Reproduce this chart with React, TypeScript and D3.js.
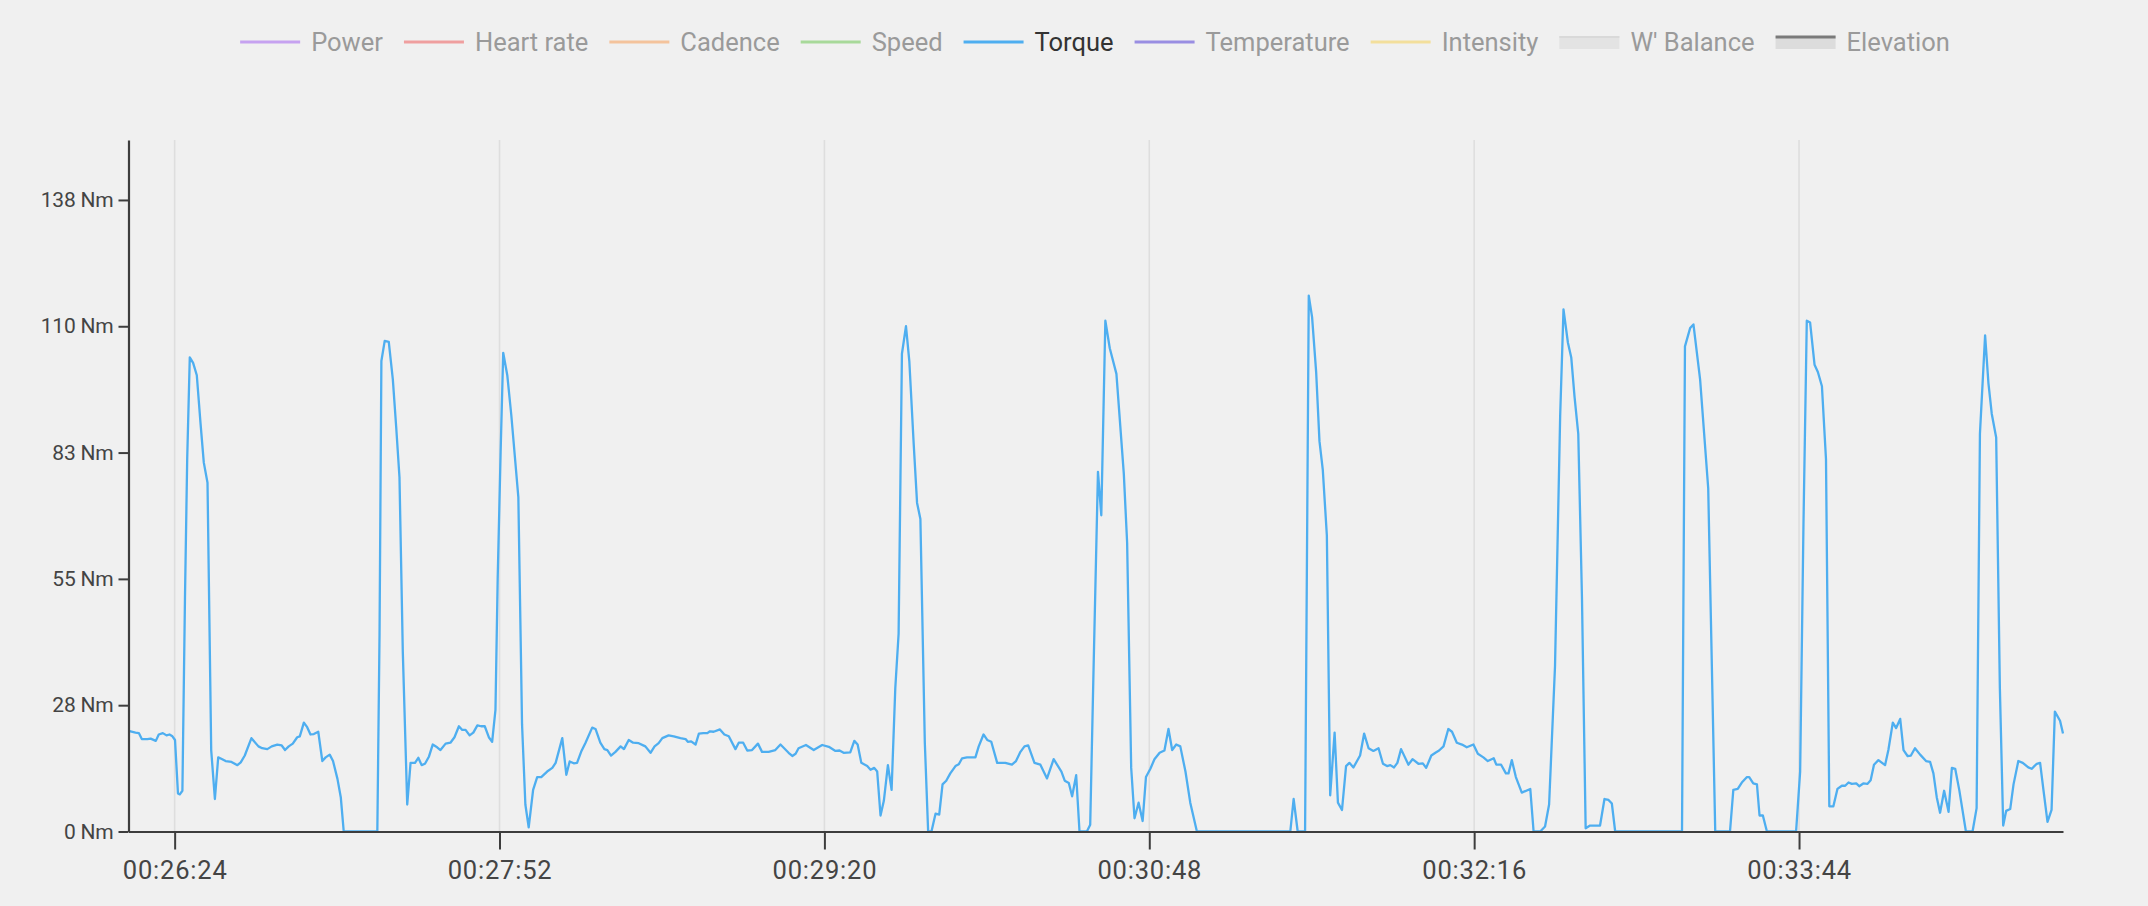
import React, { useEffect, useRef } from 'react';
import * as d3 from 'd3';

const W = 2148;
const H = 906;

// Legend
const legendNames = ['Power', 'Heart rate', 'Cadence', 'Speed', 'Torque', 'Temperature', 'Intensity', "W' Balance", 'Elevation'];
const legendColors = ['#c6a2f0', '#ef9f9f', '#f4c39c', '#a8d99a', '#4eaef0', '#998ee2', '#f3df9c', '#e3e3e3', '#dcdcdc'];
const legendKinds = ['line', 'line', 'line', 'line', 'line', 'line', 'line', 'band', 'elev'];
const activeSeries = 'Torque';

// Axes
const yTickValues = [0, 27.6, 55.2, 82.8, 110.4, 138];
const yMax = 151.1;
const xTickValues = [1584, 1672, 1760, 1848, 1936, 2024];
const timeDomain: [number, number] = [1571.5, 2095.5];

// Torque samples: [elapsed seconds, Nm]
const torque1: [number, number][] = [
  [1571.5, 22.0], [1573.4, 21.6], [1574.3, 21.5], [1575.1, 20.2], [1576.6, 20.2], [1577.5, 20.3], [1578.9, 19.8],
  [1579.7, 21.2], [1580.8, 21.5], [1581.8, 21.0], [1582.6, 21.2], [1583.4, 20.8], [1584.1, 20.0], [1584.9, 8.3],
  [1585.4, 8.1], [1586.1, 8.9], [1586.8, 51.2], [1587.4, 81.4], [1588.1, 103.6], [1589.0, 102.4], [1590.0, 99.7],
  [1591.0, 89.3], [1591.9, 80.6], [1592.9, 76.2], [1593.9, 17.8], [1594.9, 7.1], [1595.8, 16.2], [1596.9, 15.8],
  [1597.8, 15.4], [1599.4, 15.2], [1601.0, 14.5], [1601.9, 15.1], [1603.0, 16.6], [1604.8, 20.4], [1606.7, 18.6],
  [1607.7, 18.2], [1609.1, 18.0], [1610.3, 18.6], [1611.8, 19.0], [1613.0, 18.8], [1613.9, 17.8], [1614.9, 18.6],
  [1616.0, 19.2], [1617.2, 20.6], [1617.9, 20.8], [1619.0, 23.8], [1619.9, 22.8], [1620.8, 21.2], [1621.7, 21.3],
  [1622.9, 21.8], [1624.0, 15.4], [1624.9, 16.2], [1626.0, 16.8], [1626.9, 15.4], [1628.1, 11.5], [1629.0, 7.5],
  [1629.8, 0], [1638.9, 0], [1639.5, 43.2], [1640.0, 102.8], [1640.9, 107.2], [1642.0, 107.0], [1643.1, 98.8],
  [1644.0, 88.5], [1644.9, 77.4], [1645.8, 39.3], [1647.0, 5.9], [1647.9, 15.0], [1649.1, 15.0], [1650.0, 16.1],
  [1650.9, 14.5], [1651.8, 14.8], [1652.9, 16.4], [1653.9, 19.0], [1655.1, 18.4], [1656.0, 17.8], [1657.4, 19.2],
];

const torque2: [number, number][] = [
  [1658.7, 19.4], [1659.8, 20.6], [1661.0, 23.0], [1661.9, 22.2], [1662.8, 22.2], [1663.9, 21.0], [1664.9, 21.6],
  [1666.0, 23.2], [1667.0, 23.0], [1668.0, 23.0], [1669.1, 20.6], [1670.0, 19.6], [1670.9, 26.6], [1671.5, 55.2],
  [1672.3, 83.0], [1673.0, 104.6], [1674.1, 99.7], [1675.2, 90.9], [1677.1, 73.0], [1677.7, 43.2], [1678.1, 23.4],
  [1679.0, 5.9], [1679.9, 0.9], [1681.1, 9.1], [1682.2, 11.9], [1683.3, 11.9], [1684.9, 13.1], [1686.3, 13.9],
  [1687.2, 15.0], [1689.0, 20.4], [1690.1, 12.4], [1691.0, 15.3], [1692.1, 14.9], [1693.0, 15.0], [1694.1, 17.4],
  [1695.3, 19.4], [1697.1, 22.7], [1698.0, 22.4], [1699.3, 19.4], [1700.4, 18.0], [1701.2, 17.8], [1702.2, 16.6],
  [1703.4, 17.4], [1704.8, 18.6], [1705.7, 18.0], [1707.0, 20.0], [1708.2, 19.4], [1709.7, 19.3], [1711.5, 18.6],
  [1712.9, 17.2], [1714.0, 18.6], [1715.1, 19.3], [1716.1, 20.4], [1717.8, 21.0], [1719.2, 20.8], [1721.0, 20.4],
  [1722.4, 20.2], [1723.0, 19.6], [1723.9, 19.7], [1725.1, 19.0], [1726.0, 21.4], [1727.2, 21.5], [1728.3, 21.5],
  [1729.0, 21.9], [1730.0, 21.8], [1731.7, 22.3], [1732.9, 21.2], [1734.1, 20.8], [1735.9, 18.0], [1736.8, 19.4],
  [1738.0, 19.4], [1739.1, 17.7], [1740.4, 17.8], [1742.0, 19.2], [1743.1, 17.4], [1744.9, 17.4], [1746.7, 17.8],
  [1748.1, 19.0],
];

const torque3: [number, number][] = [
  [1750.3, 17.2], [1751.3, 16.5], [1752.2, 17.0], [1753.0, 18.2], [1755.0, 18.9], [1757.1, 17.8], [1759.4, 18.9],
  [1761.2, 18.5], [1763.0, 17.6], [1764.1, 17.7], [1765.2, 17.2], [1767.0, 17.3], [1768.1, 19.8], [1769.0, 19.0],
  [1770.0, 15.0], [1771.6, 14.3], [1772.5, 13.5], [1773.5, 13.9], [1774.3, 13.1], [1775.2, 3.5], [1776.1, 6.7],
  [1777.2, 14.5], [1778.2, 9.1], [1779.2, 31.3], [1780.1, 43.2], [1781.0, 104.4], [1782.1, 110.4], [1783.0, 102.8],
  [1784.2, 84.5], [1785.1, 71.8], [1786.0, 68.3], [1787.2, 19.4], [1788.1, 0], [1789.0, 0], [1790.1, 3.9],
  [1791.1, 3.7], [1792.0, 10.3], [1793.0, 11.1], [1794.1, 12.7], [1795.5, 14.3], [1796.4, 14.7], [1797.3, 16.0],
  [1798.6, 16.2], [1800.9, 16.2], [1801.8, 18.6], [1803.1, 21.2], [1804.1, 20.0], [1805.2, 19.6], [1806.8, 15.0],
  [1809.0, 15.0], [1810.8, 14.6], [1811.9, 15.4], [1813.1, 17.4], [1814.2, 18.6], [1815.2, 18.8], [1816.9, 15.0],
  [1818.5, 14.6], [1820.3, 11.6], [1822.1, 15.8], [1824.2, 13.1], [1825.1, 11.1], [1826.2, 10.6], [1827.1, 7.7],
  [1828.2, 12.3], [1829.1, 0], [1831.1, 0], [1832.0, 1.5], [1832.9, 35.3], [1834.1, 78.6], [1835.0, 69.1],
  [1836.1, 111.6],
];

const torque4: [number, number][] = [
  [1837.3, 105.6], [1839.1, 100.0], [1841.1, 78.2], [1842.0, 63.1], [1843.1, 13.9], [1844.0, 2.9], [1845.1, 6.3],
  [1846.2, 2.3], [1847.1, 11.9], [1848.3, 13.7], [1849.4, 15.8], [1850.8, 17.2], [1852.1, 17.7], [1853.2, 22.4],
  [1854.2, 17.8], [1855.3, 19.0], [1856.4, 18.6], [1857.8, 13.1], [1859.1, 6.3], [1860.9, 0], [1886.2, 0],
  [1887.1, 7.1], [1888.2, 0], [1890.2, 0], [1891.2, 117.1], [1892.1, 112.4], [1893.2, 100.4], [1894.1, 85.3],
  [1895.0, 79.0], [1896.1, 64.7], [1897.0, 7.9], [1898.2, 21.6], [1899.1, 6.3], [1900.2, 4.7], [1901.3, 14.3],
  [1902.2, 15.0], [1903.3, 14.0], [1905.1, 16.6], [1906.2, 21.4], [1907.4, 18.2], [1908.7, 17.6], [1910.1, 18.2],
  [1911.3, 14.8], [1912.4, 14.3], [1913.3, 14.5], [1914.3, 14.0], [1915.2, 15.0], [1916.2, 18.0], [1918.2, 14.6],
  [1919.3, 15.8], [1920.9, 14.8], [1922.1, 14.9], [1923.0, 13.9],
];

const torque5: [number, number][] = [
  [1924.4, 16.6], [1925.5, 17.2], [1926.5, 17.7], [1927.7, 18.6], [1929.0, 22.4], [1930.0, 21.8], [1931.3, 19.4],
  [1932.7, 19.0], [1934.0, 18.4], [1935.8, 19.0], [1937.0, 17.0], [1938.5, 16.2], [1939.7, 15.4], [1941.3, 16.0],
  [1942.0, 14.6], [1943.3, 14.6], [1944.6, 12.7], [1945.3, 12.7], [1946.2, 15.6], [1947.3, 11.9], [1948.9, 8.5],
  [1951.2, 9.3], [1952.1, 0], [1953.9, 0], [1955.2, 1.1], [1956.3, 5.9], [1957.9, 36.1], [1959.3, 90.9],
  [1960.2, 114.1], [1961.4, 106.8], [1962.3, 103.6], [1963.2, 94.9], [1964.2, 86.9], [1965.2, 51.2], [1966.2, 0.7],
  [1967.4, 1.3], [1970.1, 1.3], [1971.3, 7.1], [1972.4, 6.9], [1973.3, 6.1], [1974.2, 0], [1992.3, 0],
  [1993.1, 106.0], [1994.5, 110.0], [1995.4, 110.8], [1997.2, 98.8], [1999.4, 75.0], [2001.3, 0], [2005.3, 0],
  [2006.2, 9.1], [2007.4, 9.3], [2008.5, 10.7], [2009.9, 11.9], [2010.5, 11.9], [2011.6, 10.5],
];

const torque6: [number, number][] = [
  [2012.6, 10.3], [2013.3, 3.5], [2014.2, 3.5], [2015.3, 0], [2023.2, 0], [2024.3, 13.1], [2025.2, 67.1],
  [2026.1, 111.6], [2027.0, 111.2], [2028.2, 102.0], [2029.1, 100.4], [2030.2, 97.3], [2031.3, 81.4], [2032.2, 5.5],
  [2033.3, 5.5], [2034.4, 9.3], [2035.6, 10.0], [2036.5, 10.0], [2037.4, 10.7], [2038.3, 10.4], [2039.5, 10.5],
  [2040.3, 9.9], [2041.4, 10.5], [2042.5, 10.4], [2043.4, 11.2], [2044.3, 14.6], [2045.5, 15.6], [2047.3, 14.5],
  [2048.2, 17.8], [2049.4, 23.8], [2050.3, 22.6], [2051.4, 24.6], [2052.3, 17.8], [2053.4, 16.5], [2054.3, 16.6],
  [2055.4, 18.2], [2056.8, 16.8], [2058.4, 15.4], [2059.5, 15.2], [2060.4, 12.7], [2061.3, 7.5], [2062.2, 4.1],
  [2063.3, 8.9], [2064.5, 4.3], [2065.4, 13.9], [2066.3, 13.7], [2067.4, 9.1], [2069.2, 0], [2071.0, 0],
  [2072.1, 5.1], [2073.0, 86.9], [2074.4, 108.4], [2075.3, 98.0], [2076.2, 91.3], [2077.4, 86.1], [2078.4, 31.3],
  [2079.3, 1.3], [2080.1, 4.5], [2081.2, 4.9], [2082.1, 10.3], [2083.4, 15.4], [2084.6, 15.0], [2086.1, 14.0],
  [2087.0, 13.7], [2088.4, 14.8], [2089.3, 15.0], [2090.2, 9.1], [2091.3, 2.1], [2092.4, 4.7], [2093.3, 26.2],
  [2094.7, 24.2], [2095.5, 21.4],
];

const FONT = 'Roboto, "Noto Sans", sans-serif';

function fmtTime(s: number) {
  const h = Math.floor(s / 3600);
  const m = Math.floor((s % 3600) / 60);
  const sec = Math.round(s % 60);
  const p = (n: number) => String(n).padStart(2, '0');
  return `${p(h)}:${p(m)}:${p(sec)}`;
}

export default function App() {
  const ref = useRef<SVGSVGElement>(null);

  useEffect(() => {
    const svg = d3.select(ref.current!);
    svg.selectAll('*').remove();

    svg.append('rect').attr('width', W).attr('height', H).attr('fill', '#f0f0f0');

    const left = 128.5, right = 2063, top = 140, bottom = 831.5;
    const x = d3.scaleLinear().domain(timeDomain).range([left, right]);
    const y = d3.scaleLinear().domain([0, yMax]).range([bottom, top]);

    // vertical grid
    svg.append('g')
      .selectAll('line')
      .data(xTickValues)
      .join('line')
      .attr('x1', (d) => x(d))
      .attr('x2', (d) => x(d))
      .attr('y1', top)
      .attr('y2', bottom)
      .attr('stroke', '#dedede')
      .attr('stroke-width', 1.6);

    // torque line
    const data = [...torque1, ...torque2, ...torque3, ...torque4, ...torque5, ...torque6];
    const line = d3.line<[number, number]>().x((d) => x(d[0])).y((d) => y(d[1]));
    svg.append('path')
      .datum(data)
      .attr('d', line)
      .attr('fill', 'none')
      .attr('stroke', '#4eaef0')
      .attr('stroke-width', 2.3)
      .attr('stroke-linejoin', 'round');

    // x axis
    const gx = svg.append('g').attr('transform', `translate(0,${bottom})`)
      .call(d3.axisBottom(x).tickValues(xTickValues).tickFormat((d) => fmtTime(+d)).tickSizeInner(18).tickSizeOuter(0));
    gx.select('.domain').attr('stroke', '#3d3d3d').attr('stroke-width', 2.2);
    gx.selectAll('.tick line').attr('stroke', '#3d3d3d').attr('stroke-width', 2);
    gx.selectAll('.tick text')
      .attr('y', 47.5)
      .attr('dy', null)
      .attr('fill', '#444')
      .style('font-family', FONT)
      .style('font-size', '25.5px')
      .style('letter-spacing', '0.8px');

    // y axis
    const gy = svg.append('g').attr('transform', `translate(${left},0)`)
      .call(d3.axisLeft(y).tickValues(yTickValues).tickFormat((d) => `${Math.round(+d)} Nm`).tickSizeInner(10).tickSizeOuter(0).tickPadding(5));
    gy.select('.domain').attr('stroke', '#3d3d3d').attr('stroke-width', 2.2);
    gy.selectAll('.tick line').attr('stroke', '#3d3d3d').attr('stroke-width', 2);
    gy.selectAll('.tick text')
      .attr('fill', '#444')
      .style('font-family', FONT)
      .style('font-size', '21px')
      .style('letter-spacing', '-0.2px');

    // legend
    const lg = svg.append('g');
    const items = legendNames.map((name, i) => ({ name, color: legendColors[i], kind: legendKinds[i] }));
    const swW = 60, gapA = 11, gapB = 21, cy = 42;
    const groups = lg.selectAll('g').data(items).join('g');
    groups.append('text')
      .text((d) => d.name)
      .attr('y', cy)
      .attr('dominant-baseline', 'central')
      .attr('fill', (d) => (d.name === activeSeries ? '#333' : '#9a9a9a'))
      .style('font-family', FONT)
      .style('font-size', '25.5px');
    const widths: number[] = [];
    groups.select('text').each(function () {
      widths.push((this as SVGTextElement).getComputedTextLength());
    });
    const total = widths.reduce((a, w) => a + swW + gapA + w, 0) + gapB * (items.length - 1);
    let cx = 1095 - total / 2;
    groups.each(function (d, i) {
      const g = d3.select(this);
      g.attr('transform', `translate(${cx},0)`);
      if (d.kind === 'line') {
        g.append('line').attr('x1', 0).attr('x2', swW).attr('y1', cy).attr('y2', cy)
          .attr('stroke', d.color).attr('stroke-width', 3);
      } else if (d.kind === 'band') {
        g.append('rect').attr('x', 0).attr('y', cy - 6).attr('width', swW).attr('height', 13).attr('fill', d.color);
        g.append('line').attr('x1', 0).attr('x2', swW).attr('y1', cy - 5).attr('y2', cy - 5)
          .attr('stroke', '#d9d9d9').attr('stroke-width', 2);
      } else {
        g.append('rect').attr('x', 0).attr('y', cy - 6).attr('width', swW).attr('height', 13).attr('fill', d.color);
        g.append('line').attr('x1', 0).attr('x2', swW).attr('y1', cy - 5).attr('y2', cy - 5)
          .attr('stroke', '#7a7a7a').attr('stroke-width', 3);
      }
      g.select('text').attr('x', swW + gapA).raise();
      cx += swW + gapA + widths[i] + gapB;
    });
  }, []);

  return (
    <div style={{ position: 'fixed', left: 0, top: 0, width: W, height: H, background: '#f0f0f0' }}>
      <svg ref={ref} width={W} height={H} style={{ display: 'block' }} />
    </div>
  );
}
